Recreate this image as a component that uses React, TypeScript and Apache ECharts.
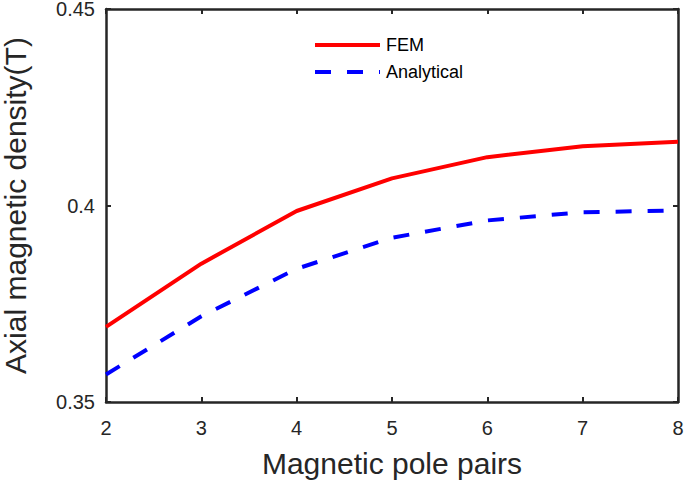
import React, { useEffect, useRef } from "react";
import * as echarts from "echarts";

const polePairs = [2, 3, 4, 5, 6, 7, 8];
const femValues = [0.3691, 0.3852, 0.3986, 0.4069, 0.4123, 0.4151, 0.4162];
const analyticalValues = [0.357, 0.3718, 0.3839, 0.3918, 0.3962, 0.3983, 0.3987];
const seriesNames = ["FEM", "Analytical"];
const xTitle = "Magnetic pole pairs";
const yTitle = "Axial magnetic density(T)";

const FONT = "'Liberation Sans', Arial, Helvetica, sans-serif";
const AX = "#262626";
const RED = "#ff0000";
const BLUE = "#0000ff";

export default function App() {
  const ref = useRef<HTMLDivElement>(null);
  useEffect(() => {
    if (!ref.current) return;
    const chart = echarts.init(ref.current, undefined, { renderer: "svg" });
    const axisLine = { show: true, onZero: false, lineStyle: { color: AX, width: 2.5 } };
    const axisTick = { show: true, inside: true, length: 5, lineStyle: { color: AX, width: 2 } };
    const legX = 315;
    const legY = [45, 72];
    chart.setOption({
      animation: false,
      backgroundColor: "#ffffff",
      textStyle: { fontFamily: FONT },
      grid: {
        left: 106,
        right: 7,
        top: 9,
        bottom: 81,
        containLabel: false,
        outerBoundsMode: "none",
      },
      graphic: [
        {
          type: "line",
          shape: { x1: legX, y1: legY[0], x2: legX + 65, y2: legY[0] },
          style: { stroke: RED, lineWidth: 4 },
        },
        {
          type: "line",
          shape: { x1: legX, y1: legY[1], x2: legX + 65, y2: legY[1] },
          style: { stroke: BLUE, lineWidth: 4, lineDash: [16, 16] },
        },
        {
          type: "text",
          x: legX + 71,
          y: legY[0],
          style: { text: seriesNames[0], font: `18px ${FONT}`, fill: "#000", verticalAlign: "middle" },
        },
        {
          type: "text",
          x: legX + 71,
          y: legY[1],
          style: { text: seriesNames[1], font: `18px ${FONT}`, fill: "#000", verticalAlign: "middle" },
        },
      ],
      xAxis: [
        {
          type: "value",
          min: 2,
          max: 8,
          interval: 1,
          position: "bottom",
          name: xTitle,
          nameLocation: "middle",
          nameGap: 46,
          nameTextStyle: { fontFamily: FONT, fontSize: 30, color: AX },
          axisLine,
          axisTick,
          splitLine: { show: false },
          axisLabel: { fontFamily: FONT, fontSize: 20, color: AX, margin: 16, showMaxLabel: true },
        },
        {
          type: "value",
          min: 2,
          max: 8,
          interval: 1,
          position: "top",
          axisLine,
          axisTick,
          splitLine: { show: false },
          axisLabel: { show: false },
        },
      ],
      yAxis: [
        {
          type: "value",
          min: 0.35,
          max: 0.45,
          interval: 0.05,
          position: "left",
          name: yTitle,
          nameLocation: "middle",
          nameGap: 76,
          nameTextStyle: { fontFamily: FONT, fontSize: 30, color: AX },
          axisLine,
          axisTick,
          splitLine: { show: false },
          axisLabel: { fontFamily: FONT, fontSize: 20, color: AX, margin: 11 },
        },
        {
          type: "value",
          min: 0.35,
          max: 0.45,
          interval: 0.05,
          position: "right",
          axisLine,
          axisTick,
          splitLine: { show: false },
          axisLabel: { show: false },
        },
      ],
      series: [
        {
          name: seriesNames[0],
          type: "line",
          data: polePairs.map((x, i) => [x, femValues[i]]),
          symbol: "none",
          lineStyle: { color: RED, width: 4 },
          itemStyle: { color: RED },
        },
        {
          name: seriesNames[1],
          type: "line",
          data: polePairs.map((x, i) => [x, analyticalValues[i]]),
          symbol: "none",
          lineStyle: { color: BLUE, width: 4, type: [16, 16] },
          itemStyle: { color: BLUE },
        },
      ],
    });
    return () => chart.dispose();
  }, []);
  return (
    <div
      ref={ref}
      style={{ position: "fixed", left: 0, top: 0, width: 685, height: 483 }}
    />
  );
}
